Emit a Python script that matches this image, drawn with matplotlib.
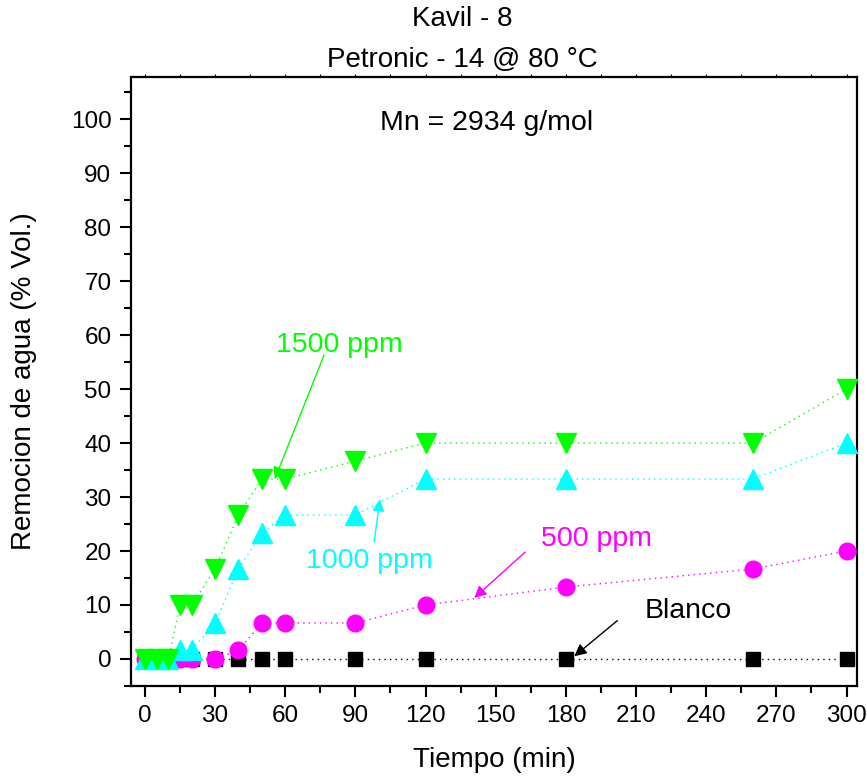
import matplotlib
matplotlib.use("Agg")
import matplotlib.pyplot as plt
from matplotlib.ticker import MultipleLocator

plt.rcParams['font.family'] = ['Liberation Sans', 'DejaVu Sans']

# Time (min)
t = [0, 5, 10, 15, 20, 30, 40, 50, 60, 90, 120, 180, 260, 300]

# Water removal (% Vol.)
blanco = [0, 0, 0, 0, 0, 0, 0, 0, 0, 0, 0, 0, 0, 0]
ppm500 = [0, 0, 0, 0, 0, 0, 1.67, 6.67, 6.67, 6.67, 10, 13.33, 16.67, 20]
ppm1000 = [0, 0, 0, 1.67, 1.67, 6.67, 16.67, 23.33, 26.67, 26.67, 33.33, 33.33, 33.33, 40]
ppm1500 = [0, 0, 0, 10, 10, 16.67, 26.67, 33.33, 33.33, 36.67, 40, 40, 40, 50]

title_lines = ["Kavil - 8", "Petronic - 14 @ 80 °C"]
x_label = "Tiempo (min)"
y_label = "Remocion de agua (% Vol.)"
x_ticks = [0, 30, 60, 90, 120, 150, 180, 210, 240, 270, 300]
y_ticks = [0, 10, 20, 30, 40, 50, 60, 70, 80, 90, 100]

green = "#00ff00"
cyan = "#00ffff"
magenta = "#ff00ff"

fig = plt.figure(figsize=(8.67, 7.78), dpi=100)
ax = fig.add_axes([0.151, 0.1183, 0.8375, 0.7827])

dots = (0, (1, 3))
ax.plot(t, blanco, linestyle=dots, lw=1, color="black",
        marker="s", ms=9.5, mec="black", mfc="black", zorder=3)
ax.plot(t, ppm500, linestyle=dots, lw=1, color=magenta,
        marker="o", ms=12, mec=magenta, mfc=magenta, zorder=4)
ax.plot(t, ppm1000, linestyle=dots, lw=1, color=cyan,
        marker="^", ms=14, mec=cyan, mfc=cyan, zorder=5)
ax.plot(t, ppm1500, linestyle=dots, lw=1, color=green,
        marker="v", ms=14, mec=green, mfc=green, zorder=6)

ax.set_xlim(-6, 304.5)
ax.set_ylim(-5, 107.8)
ax.set_xticks(x_ticks)
ax.set_yticks(y_ticks)
ax.xaxis.set_minor_locator(MultipleLocator(15))
ax.yaxis.set_minor_locator(MultipleLocator(5))

ax.tick_params(axis="both", which="major", direction="out", length=8, width=1.5,
               labelsize=17.5, pad=6)
ax.tick_params(axis="both", which="minor", direction="out", length=5, width=1.5)
ax.tick_params(axis="x", which="both", top=True, labeltop=False)
for tk in ax.xaxis.get_major_ticks() + ax.xaxis.get_minor_ticks():
    tk.tick2line.set_color("#c8c8c8")
    tk.tick2line.set_markersize(2)
    tk.tick2line.set_markeredgewidth(0.8)

for s in ax.spines.values():
    s.set_linewidth(1.6)

ax.set_xlabel(x_label, fontsize=20, labelpad=14)
ax.set_ylabel(y_label, fontsize=20, labelpad=24)

fig.text(0.533, 0.975, title_lines[0], ha="center", va="center", fontsize=20)
fig.text(0.533, 0.923, title_lines[1], ha="center", va="center", fontsize=20)

ax.text(146, 99.3, "Mn = 2934 g/mol", ha="center", va="center", fontsize=20.5)

arrow_kw = dict(arrowstyle="-|>", lw=1, mutation_scale=18, shrinkA=0, shrinkB=0)
ax.annotate("", xy=(55.5, 33.3), xytext=(76.6, 56.3),
            arrowprops=dict(color=green, **arrow_kw))
ax.text(83, 58.2, "1500 ppm", color=green, ha="center", va="center", fontsize=20.5)
ax.annotate("", xy=(100.5, 29.6), xytext=(98, 21.7),
            arrowprops=dict(color=cyan, **arrow_kw))
ax.text(96, 18.2, "1000 ppm", color=cyan, ha="center", va="center", fontsize=20.5)
ax.annotate("", xy=(140.8, 11.3), xytext=(162.6, 19.8),
            arrowprops=dict(color=magenta, **arrow_kw))
ax.text(193, 22.2, "500 ppm", color=magenta, ha="center", va="center", fontsize=20.5)
ax.annotate("", xy=(183.6, 0.5), xytext=(202, 7.1),
            arrowprops=dict(color="black", **arrow_kw))
ax.text(232.5, 8.8, "Blanco", color="black", ha="center", va="center", fontsize=20.5)

fig.savefig("out.png", dpi=100)
